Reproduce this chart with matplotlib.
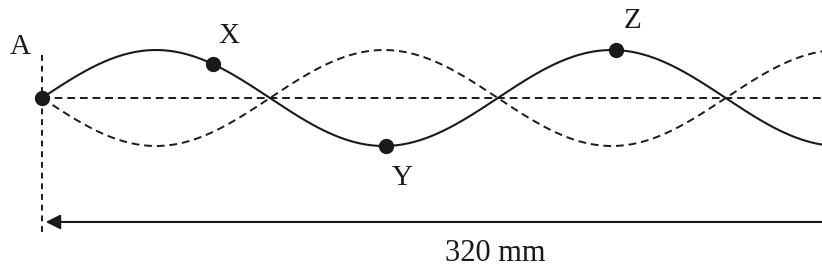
import numpy as np
from matplotlib import pyplot as plt

# stationary wave on a string, lengths in mm
length = 320
wavelength = 187
amplitude = 1.0
point_names = ["X", "Y", "Z"]
point_x = [70, 141, 235.5]
dim_label = "320 mm"

ink = "#1a1a1a"
plt.rcParams['font.family'] = ['Liberation Serif', 'DejaVu Serif']

fig = plt.figure(figsize=(8.22, 2.74), dpi=100)
ax = fig.add_axes([0, 0, 1, 1])
ax.set_xlim(-17.23, length)
ax.set_ylim(-3.667, 2.042)
ax.axis("off")


def wave(x):
    return amplitude * np.sin(2 * np.pi * x / wavelength)


x = np.linspace(0, length + 10, 600)
ax.plot(x, wave(x), color=ink, lw=1.5, solid_capstyle="round")
ax.plot(x, -wave(x), color=ink, lw=1.4, ls=(0, (4, 2.5)))
ax.plot([0, length], [0, 0], color=ink, lw=1.4, ls=(0, (4, 2.5)))
ax.plot([0, 0], [0.9, -2.81], color=ink, lw=1.4, ls=(0, (3, 2.5)))

# dots and labels
ax.plot([0], [0], "o", color=ink, ms=10)
ax.annotate("A", (0, 0), xytext=(-16, 37), textcoords="offset points",
            ha="center", va="center", fontsize=21, color=ink)
offsets = [(12, 20), (12, -23), (12, 21)]
for name, px, off in zip(point_names, point_x, offsets):
    py = wave(px)
    ax.plot([px], [py], "o", color=ink, ms=10)
    ax.annotate(name, (px, py), xytext=off, textcoords="offset points",
                ha="center", va="center", fontsize=21, color=ink)

# dimension arrow
ax.annotate("", xy=(1.5, -2.583), xytext=(length + 5, -2.583),
            arrowprops=dict(arrowstyle="-|>", color=ink, lw=1.5,
                            mutation_scale=22, shrinkA=0, shrinkB=0))
ax.text(186, -3.23, dim_label, ha="center", va="center", fontsize=22, color=ink)

fig.savefig("out.png", dpi=100)
